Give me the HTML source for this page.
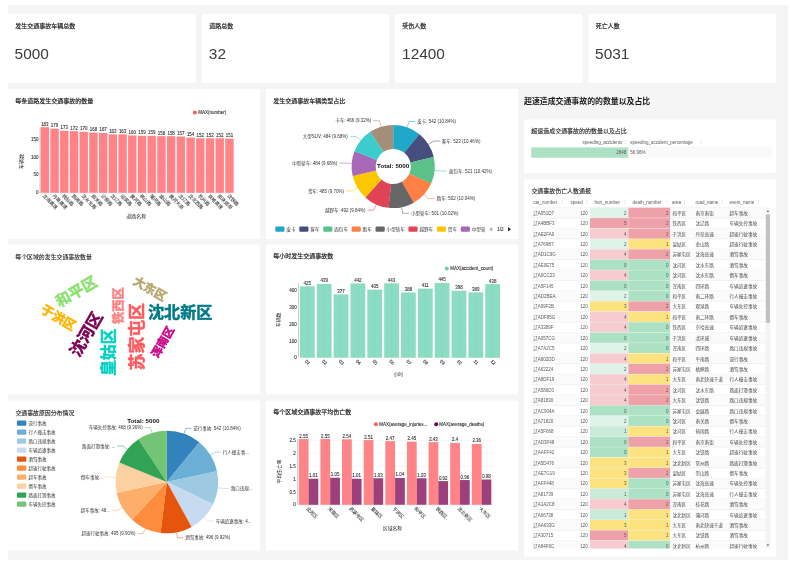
<!DOCTYPE html>
<html lang="zh"><head><meta charset="utf-8"><title>Dashboard</title>
<style>html,body{margin:0;padding:0;background:#fff;overflow:hidden}svg{display:block}text{font-family:"Liberation Sans","Noto Sans CJK SC",sans-serif}
.h{font-size:6px;fill:#222;stroke:#222;stroke-width:.18px}
.k{font-size:15.4px;fill:#3c3c3c}
.y{font-size:4.5px;fill:#333;stroke:#333;stroke-width:.1px;text-anchor:end}
.n{font-size:4.45px;fill:#333;stroke:#333;stroke-width:.1px;text-anchor:middle}
.x{font-size:4.7px;fill:#333;stroke:#333;stroke-width:.06px}
.x2{font-size:4.6px;fill:#333;stroke:#333;stroke-width:.06px}
.m{font-size:4.5px;fill:#333;stroke:#333;stroke-width:.1px}
.p{font-size:4.5px;fill:#333}
.l{font-size:4.6px;fill:#333}
.T{font-size:6.25px;font-weight:bold;fill:#111;text-anchor:middle}
.th{font-size:4.5px;fill:#5a5a5a}
.t{font-size:4.5px;fill:#5c5c5c}
.e{text-anchor:end}
.c{font-size:4.6px;fill:#444}
.w{font-weight:bold;text-anchor:middle;stroke-width:.5px}
.ax{fill:#222;text-anchor:middle}
</style></head><body>
<svg width="799" height="564" viewBox="0 0 799 564">
<defs><filter id="soft" x="0" y="0" width="100%" height="100%" filterUnits="userSpaceOnUse" color-interpolation-filters="sRGB"><feGaussianBlur stdDeviation="0.32"/></filter></defs>
<rect width="799" height="564" fill="#fff"/><g filter="url(#soft)"><rect x="8" y="5" width="780" height="555" fill="#f5f5f5"/><rect x="8" y="14" width="188" height="69" fill="#fff" rx="1.5"/><rect x="202" y="14" width="187" height="69" fill="#fff" rx="1.5"/><rect x="395" y="14" width="187.5" height="69" fill="#fff" rx="1.5"/><rect x="588.5" y="14" width="187.5" height="69" fill="#fff" rx="1.5"/><rect x="8" y="89" width="252" height="150" fill="#fff" rx="1.5"/><rect x="266" y="89" width="252" height="150" fill="#fff" rx="1.5"/><rect x="8" y="244.5" width="252" height="150" fill="#fff" rx="1.5"/><rect x="266" y="244.5" width="252" height="150" fill="#fff" rx="1.5"/><rect x="8" y="400.5" width="252" height="150" fill="#fff" rx="1.5"/><rect x="266" y="400.5" width="252" height="150" fill="#fff" rx="1.5"/><rect x="524" y="119.5" width="252" height="53.5" fill="#fff" rx="1.5"/><rect x="524" y="179.5" width="252" height="377" fill="#fff" rx="1.5"/>
<text class="h" x="15.3" y="27.6">发生交通事故车辆总数</text>
<text class="k" x="14.61" y="59">5000</text>
<text class="h" x="209.3" y="27.6">道路总数</text>
<text class="k" x="208.86" y="59">32</text>
<text class="h" x="402.3" y="27.6">受伤人数</text>
<text class="k" x="402.08" y="59">12400</text>
<text class="h" x="595.8" y="27.6">死亡人数</text>
<text class="k" x="595.11" y="59">5031</text>
<text class="h" x="15.3" y="102.8">每条道路发生交通事故的数量</text>
<line x1="40" y1="192.8" x2="234.3" y2="192.8" stroke="#e8e8e8" stroke-width="0.5"/><text class="y" x="38.4" y="194.4">0</text>
<line x1="40" y1="174.88" x2="234.3" y2="174.88" stroke="#e8e8e8" stroke-width="0.5"/><text class="y" x="38.4" y="176.48">50</text>
<line x1="40" y1="156.95" x2="234.3" y2="156.95" stroke="#e8e8e8" stroke-width="0.5"/><text class="y" x="38.4" y="158.55">100</text>
<line x1="40" y1="139.03" x2="234.3" y2="139.03" stroke="#e8e8e8" stroke-width="0.5"/><text class="y" x="38.4" y="140.63">150</text>
<line x1="44.86" y1="127.2" x2="44.86" y2="192.8" stroke="#f0f0f0" stroke-width="0.4"/><line x1="54.57" y1="127.2" x2="54.57" y2="192.8" stroke="#f0f0f0" stroke-width="0.4"/><line x1="64.29" y1="127.2" x2="64.29" y2="192.8" stroke="#f0f0f0" stroke-width="0.4"/><line x1="74" y1="127.2" x2="74" y2="192.8" stroke="#f0f0f0" stroke-width="0.4"/><line x1="83.72" y1="127.2" x2="83.72" y2="192.8" stroke="#f0f0f0" stroke-width="0.4"/><line x1="93.43" y1="127.2" x2="93.43" y2="192.8" stroke="#f0f0f0" stroke-width="0.4"/><line x1="103.15" y1="127.2" x2="103.15" y2="192.8" stroke="#f0f0f0" stroke-width="0.4"/><line x1="112.86" y1="127.2" x2="112.86" y2="192.8" stroke="#f0f0f0" stroke-width="0.4"/><line x1="122.58" y1="127.2" x2="122.58" y2="192.8" stroke="#f0f0f0" stroke-width="0.4"/><line x1="132.29" y1="127.2" x2="132.29" y2="192.8" stroke="#f0f0f0" stroke-width="0.4"/><line x1="142.01" y1="127.2" x2="142.01" y2="192.8" stroke="#f0f0f0" stroke-width="0.4"/><line x1="151.72" y1="127.2" x2="151.72" y2="192.8" stroke="#f0f0f0" stroke-width="0.4"/><line x1="161.44" y1="127.2" x2="161.44" y2="192.8" stroke="#f0f0f0" stroke-width="0.4"/><line x1="171.15" y1="127.2" x2="171.15" y2="192.8" stroke="#f0f0f0" stroke-width="0.4"/><line x1="180.87" y1="127.2" x2="180.87" y2="192.8" stroke="#f0f0f0" stroke-width="0.4"/><line x1="190.58" y1="127.2" x2="190.58" y2="192.8" stroke="#f0f0f0" stroke-width="0.4"/><line x1="200.3" y1="127.2" x2="200.3" y2="192.8" stroke="#f0f0f0" stroke-width="0.4"/><line x1="210.01" y1="127.2" x2="210.01" y2="192.8" stroke="#f0f0f0" stroke-width="0.4"/><line x1="219.73" y1="127.2" x2="219.73" y2="192.8" stroke="#f0f0f0" stroke-width="0.4"/><line x1="229.44" y1="127.2" x2="229.44" y2="192.8" stroke="#f0f0f0" stroke-width="0.4"/>
<rect x="40.65" y="127.2" width="8.41" height="65.6" fill="#ff8387"/><text class="n" x="44.86" y="125.6">183</text><text class="x" transform="translate(42.36 196.3) rotate(45)">沈海高速</text>
<rect x="50.37" y="128.63" width="8.41" height="64.17" fill="#ff8387"/><text class="n" x="54.57" y="127.03">179</text><text class="x" transform="translate(52.07 196.3) rotate(45)">丹阜高速</text>
<rect x="60.08" y="130.78" width="8.41" height="62.02" fill="#ff8387"/><text class="n" x="64.29" y="129.18">173</text><text class="x" transform="translate(61.79 196.3) rotate(45)">桃仙路</text>
<rect x="69.8" y="131.14" width="8.41" height="61.66" fill="#ff8387"/><text class="n" x="74" y="129.54">172</text><text class="x" transform="translate(71.5 196.3) rotate(45)">热闹路</text>
<rect x="79.51" y="131.86" width="8.41" height="60.94" fill="#ff8387"/><text class="n" x="83.72" y="130.26">170</text><text class="x" transform="translate(81.22 196.3) rotate(45)">沈水东路</text>
<rect x="89.23" y="132.58" width="8.41" height="60.22" fill="#ff8387"/><text class="n" x="93.43" y="130.98">168</text><text class="x" transform="translate(90.93 196.3) rotate(45)">南关路</text>
<rect x="98.94" y="132.94" width="8.41" height="59.86" fill="#ff8387"/><text class="n" x="103.15" y="131.34">167</text><text class="x" transform="translate(100.65 196.3) rotate(45)">沙柳路</text>
<rect x="108.66" y="134.37" width="8.41" height="58.43" fill="#ff8387"/><text class="n" x="112.86" y="132.77">163</text><text class="x" transform="translate(110.36 196.3) rotate(45)">沈辽路</text>
<rect x="118.37" y="134.37" width="8.41" height="58.43" fill="#ff8387"/><text class="n" x="122.58" y="132.77">163</text><text class="x" transform="translate(120.08 196.3) rotate(45)">迎宾路</text>
<rect x="128.09" y="135.44" width="8.41" height="57.36" fill="#ff8387"/><text class="n" x="132.29" y="133.84">160</text><text class="x" transform="translate(129.79 196.3) rotate(45)">黄河路</text>
<rect x="137.8" y="135.8" width="8.41" height="57" fill="#ff8387"/><text class="n" x="142.01" y="134.2">159</text><text class="x" transform="translate(139.51 196.3) rotate(45)">崇山路</text>
<rect x="147.52" y="135.8" width="8.41" height="57" fill="#ff8387"/><text class="n" x="151.72" y="134.2">159</text><text class="x" transform="translate(149.22 196.3) rotate(45)">蒲河路</text>
<rect x="157.23" y="136.16" width="8.41" height="56.64" fill="#ff8387"/><text class="n" x="161.44" y="134.56">158</text><text class="x" transform="translate(158.94 196.3) rotate(45)">金山路</text>
<rect x="166.95" y="136.16" width="8.41" height="56.64" fill="#ff8387"/><text class="n" x="171.15" y="134.56">158</text><text class="x" transform="translate(168.65 196.3) rotate(45)">黄河大街</text>
<rect x="176.66" y="136.52" width="8.41" height="56.28" fill="#ff8387"/><text class="n" x="180.87" y="134.92">157</text><text class="x" transform="translate(178.37 196.3) rotate(45)">沈辽路</text>
<rect x="186.38" y="137.6" width="8.41" height="55.2" fill="#ff8387"/><text class="n" x="190.58" y="136">154</text><text class="x" transform="translate(188.08 196.3) rotate(45)">沈北西路</text>
<rect x="196.09" y="138.31" width="8.41" height="54.49" fill="#ff8387"/><text class="n" x="200.3" y="136.71">152</text><text class="x" transform="translate(197.8 196.3) rotate(45)">杭州路</text>
<rect x="205.81" y="138.31" width="8.41" height="54.49" fill="#ff8387"/><text class="n" x="210.01" y="136.71">152</text><text class="x" transform="translate(207.51 196.3) rotate(45)">京哈高速</text>
<rect x="215.52" y="138.31" width="8.41" height="54.49" fill="#ff8387"/><text class="n" x="219.73" y="136.71">152</text><text class="x" transform="translate(217.23 196.3) rotate(45)">南京南街</text>
<rect x="225.24" y="138.67" width="8.41" height="54.13" fill="#ff8387"/><text class="n" x="229.44" y="137.07">151</text><text class="x" transform="translate(226.94 196.3) rotate(45)">沈铁路</text>
<line x1="40" y1="127.2" x2="40" y2="192.8" stroke="#999" stroke-width="0.5"/>
<text class="ax" font-size="5" x="136.3" y="218.3">道路名称</text>
<text class="ax" font-size="5" transform="translate(22.6 161.5) rotate(-90)">车辆数</text>
<circle cx="194.9" cy="112.6" r="2" fill="#ff5a5f"/><text class="m" x="198.2" y="114.2">MAX(number)</text>
<text class="h" x="273.3" y="102.8">发生交通事故车辆类型占比</text>
<path d="M393.2 124.9A41.6 41.6 0 0 1 419.52 134.29L404.34 152.87A17.6 17.6 0 0 0 393.2 148.9Z" fill="#1FA8C9"/><polyline points="407.09,127.29 409.17,121.45 415.37,121.45" fill="none" stroke="#1FA8C9" stroke-width="0.55" stroke-linejoin="round"/><text class="p" x="417.37" y="123.1">皮卡: 542 (10.84%)</text>
<path d="M419.39 134.18A41.6 41.6 0 0 1 433.72 157.08L410.34 162.51A17.6 17.6 0 0 0 404.28 152.83Z" fill="#454E7C"/><polyline points="428.42,144.36 433.67,141.07 439.87,141.07" fill="none" stroke="#454E7C" stroke-width="0.55" stroke-linejoin="round"/><text class="p" x="441.87" y="142.72">客车: 523 (10.46%)</text>
<path d="M433.68 156.92A41.6 41.6 0 0 1 431.08 183.7L409.23 173.78A17.6 17.6 0 0 0 410.33 162.45Z" fill="#5AC189"/><polyline points="434.61,170.44 440.79,171.03 446.99,171.03" fill="none" stroke="#5AC189" stroke-width="0.55" stroke-linejoin="round"/><text class="p" x="448.99" y="172.68">面包车: 521 (10.42%)</text>
<path d="M431.15 183.55A41.6 41.6 0 0 1 413.64 202.73L401.85 181.83A17.6 17.6 0 0 0 409.25 173.71Z" fill="#FF7F44"/><polyline points="423.99,194.48 428.57,198.65 434.77,198.65" fill="none" stroke="#FF7F44" stroke-width="0.55" stroke-linejoin="round"/><text class="p" x="436.77" y="200.3">跑车: 502 (10.04%)</text>
<path d="M413.79 202.65A41.6 41.6 0 0 1 388.39 207.82L391.17 183.98A17.6 17.6 0 0 0 401.91 181.79Z" fill="#666666"/><polyline points="401.58,207.25 402.83,213.32 409.03,213.32" fill="none" stroke="#666666" stroke-width="0.55" stroke-linejoin="round"/><text class="p" x="411.03" y="214.97">小型轿车: 501 (10.02%)</text>
<path d="M388.56 207.84A41.6 41.6 0 0 1 365.33 197.39L381.41 179.57A17.6 17.6 0 0 0 391.24 183.99Z" fill="#E04355"/><polyline points="376.2,204.47 373.67,210.13 367.47,210.13" fill="none" stroke="#E04355" stroke-width="0.55" stroke-linejoin="round"/><text class="p e" x="365.47" y="211.78">越野车: 492 (9.84%)</text>
<path d="M365.45 197.5A41.6 41.6 0 0 1 352.67 175.87L376.05 170.46A17.6 17.6 0 0 0 381.46 179.61Z" fill="#FCC700"/><polyline points="357.43,187.74 352.1,190.91 345.9,190.91" fill="none" stroke="#FCC700" stroke-width="0.55" stroke-linejoin="round"/><text class="p e" x="343.9" y="192.56">货车: 485 (9.70%)</text>
<path d="M352.71 176.03A41.6 41.6 0 0 1 354.58 151.03L376.86 159.96A17.6 17.6 0 0 0 376.07 170.53Z" fill="#A868B7"/><polyline points="351.71,163.47 345.53,163.02 339.33,163.02" fill="none" stroke="#A868B7" stroke-width="0.55" stroke-linejoin="round"/><text class="p e" x="337.33" y="164.67">中型轿车: 484 (9.68%)</text>
<path d="M354.52 151.19A41.6 41.6 0 0 1 370.35 131.74L383.53 151.79A17.6 17.6 0 0 0 376.84 160.02Z" fill="#3CCCCB"/><polyline points="360.88,140.31 356.07,136.4 349.87,136.4" fill="none" stroke="#3CCCCB" stroke-width="0.55" stroke-linejoin="round"/><text class="p e" x="347.87" y="138.05">大型SUV: 484 (9.68%)</text>
<path d="M370.21 131.83A41.6 41.6 0 0 1 393.2 124.9L393.2 148.9A17.6 17.6 0 0 0 383.47 151.83Z" fill="#A38F79"/><polyline points="381.19,126.67 379.4,120.73 373.2,120.73" fill="none" stroke="#A38F79" stroke-width="0.55" stroke-linejoin="round"/><text class="p e" x="371.2" y="122.38">卡车: 466 (9.32%)</text>
<text class="T" x="393.2" y="168">Total: 5000</text>
<rect x="275.3" y="226.5" width="9.2" height="5.3" fill="#1FA8C9" rx="1.2"/><text class="l" x="286.3" y="230.9">皮卡</text>
<rect x="299.25" y="226.5" width="9.2" height="5.3" fill="#454E7C" rx="1.2"/><text class="l" x="310.25" y="230.9">客车</text>
<rect x="323.2" y="226.5" width="9.2" height="5.3" fill="#5AC189" rx="1.2"/><text class="l" x="334.2" y="230.9">面包车</text>
<rect x="351.6" y="226.5" width="9.2" height="5.3" fill="#FF7F44" rx="1.2"/><text class="l" x="362.6" y="230.9">跑车</text>
<rect x="375.55" y="226.5" width="9.2" height="5.3" fill="#666666" rx="1.2"/><text class="l" x="386.55" y="230.9">小型轿车</text>
<rect x="408.4" y="226.5" width="9.2" height="5.3" fill="#E04355" rx="1.2"/><text class="l" x="419.4" y="230.9">越野车</text>
<rect x="436.8" y="226.5" width="9.2" height="5.3" fill="#FCC700" rx="1.2"/><text class="l" x="447.8" y="230.9">货车</text>
<rect x="460.75" y="226.5" width="9.2" height="5.3" fill="#A868B7" rx="1.2"/><clipPath id="lgclip"><rect x="470" y="220" width="15.5" height="20"/></clipPath><g clip-path="url(#lgclip)"><text class="l" x="471.75" y="230.9">中型轿车</text></g>
<path d="M492.3 226.9L489.3 229.2L492.3 231.5Z" fill="#aaa"/><text x="500.4" y="230.9" font-size="4.6" fill="#333" stroke="#333" stroke-width="0.1" text-anchor="middle">1/2</text><path d="M508 226.9L511 229.2L508 231.5Z" fill="#2b2b2b"/>
<text class="h" style="font-size:5.9px;stroke-width:.08px" x="15.3" y="259.3">每个区域的发生交通事故数量</text>
<text class="w" font-size="15" fill="#8ce071" stroke="#8ce071" transform="translate(79.01 296.37) rotate(-30)">和平区</text>
<text class="w" font-size="12.7" fill="#ffb400" stroke="#ffb400" transform="translate(56.12 321.62) rotate(30)">于洪区</text>
<text class="w" font-size="12.2" fill="#ff8083" stroke="#ff8083" transform="translate(122.88 305.6) rotate(-90)">铁西区</text>
<text class="w" font-size="16.1" fill="#7b0051" stroke="#7b0051" transform="translate(91.13 337.12) rotate(-60)">沈河区</text>
<text class="w" font-size="15.7" fill="#00d1c1" stroke="#00d1c1" transform="translate(113.79 352.2) rotate(-90)">皇姑区</text>
<text class="w" font-size="16.8" fill="#ff5a5f" stroke="#ff5a5f" transform="translate(142.8 336.6) rotate(-90)">苏家屯区</text>
<text class="w" font-size="11.3" fill="#cc0086" stroke="#cc0086" transform="translate(166.17 344.12) rotate(-60)">浑南区</text>
<text class="w" font-size="12" fill="#b4a76c" stroke="#b4a76c" transform="translate(147.75 292.4) rotate(30)">大东区</text>
<text class="w" font-size="16.1" fill="#007a87" stroke="#007a87" x="180.2" y="317.64">沈北新区</text>
<text class="h" x="273.3" y="258.3">每小时发生交通事故数</text>
<line x1="298.9" y1="357.7" x2="501.1" y2="357.7" stroke="#e8e8e8" stroke-width="0.5"/><text class="y" x="296.7" y="359.3">0</text>
<line x1="298.9" y1="340.9" x2="501.1" y2="340.9" stroke="#e8e8e8" stroke-width="0.5"/><text class="y" x="296.7" y="342.5">100</text>
<line x1="298.9" y1="324.1" x2="501.1" y2="324.1" stroke="#e8e8e8" stroke-width="0.5"/><text class="y" x="296.7" y="325.7">200</text>
<line x1="298.9" y1="307.3" x2="501.1" y2="307.3" stroke="#e8e8e8" stroke-width="0.5"/><text class="y" x="296.7" y="308.9">300</text>
<line x1="298.9" y1="290.5" x2="501.1" y2="290.5" stroke="#e8e8e8" stroke-width="0.5"/><text class="y" x="296.7" y="292.1">400</text>
<line x1="307.32" y1="282.94" x2="307.32" y2="357.7" stroke="#f0f0f0" stroke-width="0.4"/><line x1="324.17" y1="282.94" x2="324.17" y2="357.7" stroke="#f0f0f0" stroke-width="0.4"/><line x1="341.02" y1="282.94" x2="341.02" y2="357.7" stroke="#f0f0f0" stroke-width="0.4"/><line x1="357.88" y1="282.94" x2="357.88" y2="357.7" stroke="#f0f0f0" stroke-width="0.4"/><line x1="374.72" y1="282.94" x2="374.72" y2="357.7" stroke="#f0f0f0" stroke-width="0.4"/><line x1="391.57" y1="282.94" x2="391.57" y2="357.7" stroke="#f0f0f0" stroke-width="0.4"/><line x1="408.42" y1="282.94" x2="408.42" y2="357.7" stroke="#f0f0f0" stroke-width="0.4"/><line x1="425.27" y1="282.94" x2="425.27" y2="357.7" stroke="#f0f0f0" stroke-width="0.4"/><line x1="442.12" y1="282.94" x2="442.12" y2="357.7" stroke="#f0f0f0" stroke-width="0.4"/><line x1="458.98" y1="282.94" x2="458.98" y2="357.7" stroke="#f0f0f0" stroke-width="0.4"/><line x1="475.82" y1="282.94" x2="475.82" y2="357.7" stroke="#f0f0f0" stroke-width="0.4"/><line x1="492.67" y1="282.94" x2="492.67" y2="357.7" stroke="#f0f0f0" stroke-width="0.4"/>
<rect x="299.95" y="286.3" width="14.75" height="71.4" fill="#8bdcc3"/><line x1="307.32" y1="286.3" x2="307.32" y2="357.7" stroke="#7fd3b9" stroke-width="0.4"/><text class="n" x="307.32" y="284.8">425</text><text class="m" transform="translate(304.82 361.6) rotate(45)">01</text>
<rect x="316.8" y="283.95" width="14.75" height="73.75" fill="#8bdcc3"/><line x1="324.17" y1="283.95" x2="324.17" y2="357.7" stroke="#7fd3b9" stroke-width="0.4"/><text class="n" x="324.17" y="282.45">439</text><text class="m" transform="translate(321.67 361.6) rotate(45)">02</text>
<rect x="333.65" y="294.36" width="14.75" height="63.34" fill="#8bdcc3"/><line x1="341.02" y1="294.36" x2="341.02" y2="357.7" stroke="#7fd3b9" stroke-width="0.4"/><text class="n" x="341.02" y="292.86">377</text><text class="m" transform="translate(338.52 361.6) rotate(45)">03</text>
<rect x="350.5" y="283.44" width="14.75" height="74.26" fill="#8bdcc3"/><line x1="357.88" y1="283.44" x2="357.88" y2="357.7" stroke="#7fd3b9" stroke-width="0.4"/><text class="n" x="357.88" y="281.94">442</text><text class="m" transform="translate(355.38 361.6) rotate(45)">04</text>
<rect x="367.35" y="289.66" width="14.75" height="68.04" fill="#8bdcc3"/><line x1="374.72" y1="289.66" x2="374.72" y2="357.7" stroke="#7fd3b9" stroke-width="0.4"/><text class="n" x="374.72" y="288.16">405</text><text class="m" transform="translate(372.22 361.6) rotate(45)">05</text>
<rect x="384.2" y="283.28" width="14.75" height="74.42" fill="#8bdcc3"/><line x1="391.57" y1="283.28" x2="391.57" y2="357.7" stroke="#7fd3b9" stroke-width="0.4"/><text class="n" x="391.57" y="281.78">443</text><text class="m" transform="translate(389.07 361.6) rotate(45)">06</text>
<rect x="401.05" y="292.52" width="14.75" height="65.18" fill="#8bdcc3"/><line x1="408.42" y1="292.52" x2="408.42" y2="357.7" stroke="#7fd3b9" stroke-width="0.4"/><text class="n" x="408.42" y="291.02">388</text><text class="m" transform="translate(405.92 361.6) rotate(45)">07</text>
<rect x="417.9" y="288.65" width="14.75" height="69.05" fill="#8bdcc3"/><line x1="425.27" y1="288.65" x2="425.27" y2="357.7" stroke="#7fd3b9" stroke-width="0.4"/><text class="n" x="425.27" y="287.15">411</text><text class="m" transform="translate(422.77 361.6) rotate(45)">08</text>
<rect x="434.75" y="282.94" width="14.75" height="74.76" fill="#8bdcc3"/><line x1="442.12" y1="282.94" x2="442.12" y2="357.7" stroke="#7fd3b9" stroke-width="0.4"/><text class="n" x="442.12" y="281.44">445</text><text class="m" transform="translate(439.62 361.6) rotate(45)">09</text>
<rect x="451.6" y="290.84" width="14.75" height="66.86" fill="#8bdcc3"/><line x1="458.98" y1="290.84" x2="458.98" y2="357.7" stroke="#7fd3b9" stroke-width="0.4"/><text class="n" x="458.98" y="289.34">398</text><text class="m" transform="translate(456.48 361.6) rotate(45)">10</text>
<rect x="468.45" y="292.35" width="14.75" height="65.35" fill="#8bdcc3"/><line x1="475.82" y1="292.35" x2="475.82" y2="357.7" stroke="#7fd3b9" stroke-width="0.4"/><text class="n" x="475.82" y="290.85">389</text><text class="m" transform="translate(473.32 361.6) rotate(45)">11</text>
<rect x="485.3" y="284.12" width="14.75" height="73.58" fill="#8bdcc3"/><line x1="492.67" y1="284.12" x2="492.67" y2="357.7" stroke="#7fd3b9" stroke-width="0.4"/><text class="n" x="492.67" y="282.62">438</text><text class="m" transform="translate(490.17 361.6) rotate(45)">12</text>
<line x1="298.5" y1="282.94" x2="298.5" y2="357.7" stroke="#999" stroke-width="0.5"/>
<text class="ax" font-size="4.8" x="398.3" y="376">小时</text>
<text class="ax" font-size="4.8" transform="translate(280.1 319.8) rotate(-90)">车辆数</text>
<circle cx="446.8" cy="268.6" r="2" fill="#63d1b0"/><text class="m" x="450.2" y="270.2">MAX(accident_count)</text>
<text class="h" style="font-size:5.9px;stroke-width:.1px" x="15.4" y="415">交通事故原因分布情况</text>
<rect x="16.9" y="420.45" width="9.4" height="5.2" fill="#3182bd" rx="1.2"/><text class="p" x="28.4" y="424.7">逆行事故</text>
<rect x="16.9" y="429.45" width="9.4" height="5.2" fill="#6baed6" rx="1.2"/><text class="p" x="28.4" y="433.7">行人撞击事故</text>
<rect x="16.9" y="438.45" width="9.4" height="5.2" fill="#9ecae1" rx="1.2"/><text class="p" x="28.4" y="442.7">路口违规事故</text>
<rect x="16.9" y="447.45" width="9.4" height="5.2" fill="#c6dbef" rx="1.2"/><text class="p" x="28.4" y="451.7">车辆追逐事故</text>
<rect x="16.9" y="456.45" width="9.4" height="5.2" fill="#e6550d" rx="1.2"/><text class="p" x="28.4" y="460.7">酒驾事故</text>
<rect x="16.9" y="465.45" width="9.4" height="5.2" fill="#fd8d3c" rx="1.2"/><text class="p" x="28.4" y="469.7">超速行驶事故</text>
<rect x="16.9" y="474.45" width="9.4" height="5.2" fill="#fdae6b" rx="1.2"/><text class="p" x="28.4" y="478.7">超车事故</text>
<rect x="16.9" y="483.45" width="9.4" height="5.2" fill="#fdd0a2" rx="1.2"/><text class="p" x="28.4" y="487.7">倒车事故</text>
<rect x="16.9" y="492.45" width="9.4" height="5.2" fill="#31a354" rx="1.2"/><text class="p" x="28.4" y="496.7">路面打滑事故</text>
<rect x="16.9" y="501.45" width="9.4" height="5.2" fill="#74c476" rx="1.2"/><text class="p" x="28.4" y="505.7">车辆失控事故</text>
<path d="M166.85 482L166.85 430.7A51.3 51.3 0 0 1 199.31 442.28Z" fill="#3182bd"/><polyline points="183.98,433.65 185.85,428.37 191.45,428.37" fill="none" stroke="#3182bd" stroke-width="0.55" stroke-linejoin="round"/><text class="p" x="193.35" y="429.97">逆行事故: 542 (10.84%)</text>
<path d="M166.85 482L199.15 442.15A51.3 51.3 0 0 1 216.99 471.14Z" fill="#6baed6"/><polyline points="210.49,455.03 215.25,452.09 220.85,452.09" fill="none" stroke="#6baed6" stroke-width="0.55" stroke-linejoin="round"/><text class="p" x="222.75" y="453.69">行人撞击事...</text>
<path d="M166.85 482L216.94 470.94A51.3 51.3 0 0 1 213.12 504.14Z" fill="#9ecae1"/><polyline points="217.83,487.76 223.39,488.39 228.99,488.39" fill="none" stroke="#9ecae1" stroke-width="0.55" stroke-linejoin="round"/><text class="p" x="230.89" y="489.99">路口违规...</text>
<path d="M166.85 482L213.21 503.96A51.3 51.3 0 0 1 191.38 527.05Z" fill="#c6dbef"/><polyline points="204.2,517.16 208.28,521 213.88,521" fill="none" stroke="#c6dbef" stroke-width="0.55" stroke-linejoin="round"/><text class="p" x="215.78" y="522.6">车辆追逐事故: 4...</text>
<path d="M166.85 482L191.56 526.95A51.3 51.3 0 0 1 160.47 532.9Z" fill="#e6550d"/><polyline points="176.59,532.37 177.65,537.87 183.25,537.87" fill="none" stroke="#e6550d" stroke-width="0.55" stroke-linejoin="round"/><text class="p" x="185.15" y="539.47">酒驾事故: 496 (9.92%)</text>
<path d="M166.85 482L160.68 532.93A51.3 51.3 0 0 1 132.01 519.65Z" fill="#fd8d3c"/><polyline points="145.39,528.59 143.04,533.68 137.44,533.68" fill="none" stroke="#fd8d3c" stroke-width="0.55" stroke-linejoin="round"/><text class="p e" x="135.54" y="535.28">超速行驶事故: 495 (9.90%)</text>
<path d="M166.85 482L132.16 519.79A51.3 51.3 0 0 1 116.67 492.68Z" fill="#fdae6b"/><polyline points="122.35,507.53 117.5,510.32 111.9,510.32" fill="none" stroke="#fdae6b" stroke-width="0.55" stroke-linejoin="round"/><text class="p e" x="110" y="511.92">超车事故: 48...</text>
<path d="M166.85 482L116.72 492.88A51.3 51.3 0 0 1 119.47 462.33Z" fill="#fdd0a2"/><polyline points="115.75,477.49 110.17,477 104.57,477" fill="none" stroke="#fdd0a2" stroke-width="0.55" stroke-linejoin="round"/><text class="p e" x="102.67" y="478.6">倒车事故...</text>
<path d="M166.85 482L119.39 462.52A51.3 51.3 0 0 1 138.56 439.21Z" fill="#31a354"/><polyline points="127.16,449.5 122.83,445.95 117.23,445.95" fill="none" stroke="#31a354" stroke-width="0.55" stroke-linejoin="round"/><text class="p e" x="115.33" y="447.55">路面打滑事故: ...</text>
<path d="M166.85 482L138.39 439.32A51.3 51.3 0 0 1 166.85 430.7Z" fill="#74c476"/><polyline points="151.98,432.9 150.36,427.54 144.76,427.54" fill="none" stroke="#74c476" stroke-width="0.55" stroke-linejoin="round"/><text class="p e" x="142.86" y="429.14">车辆失控事故: 468 (9.36%)</text>
<text class="T" x="143.3" y="422.8">Total: 5000</text>
<text class="h" x="273.3" y="414.3">每个区域交通事故平均伤亡数</text>
<line x1="297.7" y1="504.8" x2="493.37" y2="504.8" stroke="#e8e8e8" stroke-width="0.5"/><text class="y" x="295.7" y="506.4">0</text>
<line x1="297.7" y1="491.91" x2="493.37" y2="491.91" stroke="#e8e8e8" stroke-width="0.5"/><text class="y" x="295.7" y="493.51">0.5</text>
<line x1="297.7" y1="479.02" x2="493.37" y2="479.02" stroke="#e8e8e8" stroke-width="0.5"/><text class="y" x="295.7" y="480.62">1</text>
<line x1="297.7" y1="466.13" x2="493.37" y2="466.13" stroke="#e8e8e8" stroke-width="0.5"/><text class="y" x="295.7" y="467.73">1.5</text>
<line x1="297.7" y1="453.24" x2="493.37" y2="453.24" stroke="#e8e8e8" stroke-width="0.5"/><text class="y" x="295.7" y="454.84">2</text>
<line x1="297.7" y1="440.35" x2="493.37" y2="440.35" stroke="#e8e8e8" stroke-width="0.5"/><text class="y" x="295.7" y="441.95">2.5</text>
<rect x="298.8" y="439.06" width="9.75" height="65.74" fill="#ff8387"/><rect x="308.55" y="478.76" width="9.75" height="26.04" fill="#9c407c"/><text class="n" x="303.68" y="437.56">2.55</text><text class="n" x="313.43" y="477.26">1.01</text><text class="x2" transform="translate(305.75 508.9) rotate(45)">沈河区</text>
<rect x="320.43" y="439.06" width="9.75" height="65.74" fill="#ff8387"/><rect x="330.18" y="477.73" width="9.75" height="27.07" fill="#9c407c"/><text class="n" x="325.31" y="437.56">2.55</text><text class="n" x="335.06" y="476.23">1.05</text><text class="x2" transform="translate(327.38 508.9) rotate(45)">浑南区</text>
<rect x="342.06" y="439.32" width="9.75" height="65.48" fill="#ff8387"/><rect x="351.81" y="478.76" width="9.75" height="26.04" fill="#9c407c"/><text class="n" x="346.94" y="437.82">2.54</text><text class="n" x="356.69" y="477.26">1.01</text><text class="x2" transform="translate(349.01 508.9) rotate(45)">苏家屯区</text>
<rect x="363.69" y="440.09" width="9.75" height="64.71" fill="#ff8387"/><rect x="373.44" y="478.25" width="9.75" height="26.55" fill="#9c407c"/><text class="n" x="368.56" y="438.59">2.51</text><text class="n" x="378.31" y="476.75">1.03</text><text class="x2" transform="translate(370.64 508.9) rotate(45)">皇姑区</text>
<rect x="385.32" y="441.12" width="9.75" height="63.68" fill="#ff8387"/><rect x="395.07" y="477.99" width="9.75" height="26.81" fill="#9c407c"/><text class="n" x="390.19" y="439.62">2.47</text><text class="n" x="399.94" y="476.49">1.04</text><text class="x2" transform="translate(392.27 508.9) rotate(45)">于洪区</text>
<rect x="406.95" y="441.64" width="9.75" height="63.16" fill="#ff8387"/><rect x="416.7" y="478.25" width="9.75" height="26.55" fill="#9c407c"/><text class="n" x="411.82" y="440.14">2.45</text><text class="n" x="421.57" y="476.75">1.03</text><text class="x2" transform="translate(413.9 508.9) rotate(45)">和平区</text>
<rect x="428.58" y="442.15" width="9.75" height="62.65" fill="#ff8387"/><rect x="438.33" y="481.08" width="9.75" height="23.72" fill="#9c407c"/><text class="n" x="433.46" y="440.65">2.43</text><text class="n" x="443.21" y="479.58">0.92</text><text class="x2" transform="translate(435.53 508.9) rotate(45)">铁西区</text>
<rect x="450.21" y="442.93" width="9.75" height="61.87" fill="#ff8387"/><rect x="459.96" y="480.05" width="9.75" height="24.75" fill="#9c407c"/><text class="n" x="455.09" y="441.43">2.4</text><text class="n" x="464.84" y="478.55">0.96</text><text class="x2" transform="translate(457.16 508.9) rotate(45)">沈北新区</text>
<rect x="471.84" y="443.96" width="9.75" height="60.84" fill="#ff8387"/><rect x="481.59" y="479.54" width="9.75" height="25.26" fill="#9c407c"/><text class="n" x="476.72" y="442.46">2.36</text><text class="n" x="486.47" y="478.04">0.98</text><text class="x2" transform="translate(478.79 508.9) rotate(45)">大东区</text>
<line x1="297.3" y1="439.06" x2="297.3" y2="504.8" stroke="#999" stroke-width="0.5"/>
<text class="ax" font-size="4.8" x="392.5" y="529.6">区域名称</text>
<text class="ax" font-size="4.8" transform="translate(281 471.5) rotate(-90)">平均伤亡率</text>
<circle cx="375.9" cy="424.2" r="2" fill="#ff5a5f"/><text class="m" x="379.2" y="425.8">MAX(average_injuries...</text>
<circle cx="436.2" cy="424.2" r="2" fill="#7b0051"/><text class="m" x="439.2" y="425.8">MAX(average_deaths)</text>
<text x="524" y="104.3" font-size="7.9" font-weight="bold" fill="#1a1a1a">超速造成交通事故的的数量以及占比</text>
<text class="h" style="font-size:5.98px;stroke-width:.1px" x="531.3" y="133.4">超速造成交通事故的的数量以及占比</text>
<text class="th e" x="622.3" y="143.6">speeding_accidents</text>
<text class="th" x="630.2" y="143.6">speeding_accident_percentage</text>
<rect x="624.9" y="140.4" width="0.6" height="0.6" fill="#aaa"/><rect x="624.9" y="141.7" width="0.6" height="0.6" fill="#aaa"/><rect x="624.9" y="143" width="0.6" height="0.6" fill="#aaa"/><rect x="700.9" y="140.4" width="0.6" height="0.6" fill="#aaa"/><rect x="700.9" y="141.7" width="0.6" height="0.6" fill="#aaa"/><rect x="700.9" y="143" width="0.6" height="0.6" fill="#aaa"/><line x1="531.3" y1="147.3" x2="771.7" y2="147.3" stroke="#e6e6e6" stroke-width="0.4"/><rect x="531.3" y="147.5" width="240.4" height="10.2" fill="#fafafa"/><rect x="531.3" y="147.5" width="96.8" height="10.2" fill="#ace1c4"/><line x1="628.3" y1="147.5" x2="628.3" y2="157.7" stroke="#eee" stroke-width="0.4"/>
<text class="t e" x="626.3" y="154.3">2848</text>
<text class="t" x="630.2" y="154.3">56.96%</text>
<text class="h" style="font-size:5.96px;stroke-width:.1px" x="531.4" y="193.2">交通事故伤亡人数通报</text>
<text class="th" x="533.2" y="203.6">car_number</text><rect x="561.7" y="200.4" width="0.6" height="0.6" fill="#aaa"/><rect x="561.7" y="201.7" width="0.6" height="0.6" fill="#aaa"/><rect x="561.7" y="203" width="0.6" height="0.6" fill="#aaa"/>
<text class="th" x="570.5" y="203.6">speed</text><rect x="586.7" y="200.4" width="0.6" height="0.6" fill="#aaa"/><rect x="586.7" y="201.7" width="0.6" height="0.6" fill="#aaa"/><rect x="586.7" y="203" width="0.6" height="0.6" fill="#aaa"/>
<text class="th" x="594.4" y="203.6">hurt_number</text><rect x="624.7" y="200.4" width="0.6" height="0.6" fill="#aaa"/><rect x="624.7" y="201.7" width="0.6" height="0.6" fill="#aaa"/><rect x="624.7" y="203" width="0.6" height="0.6" fill="#aaa"/>
<text class="th" x="632.5" y="203.6">death_number</text><rect x="666.7" y="200.4" width="0.6" height="0.6" fill="#aaa"/><rect x="666.7" y="201.7" width="0.6" height="0.6" fill="#aaa"/><rect x="666.7" y="203" width="0.6" height="0.6" fill="#aaa"/>
<text class="th" x="672" y="203.6">area</text><rect x="684.1" y="200.4" width="0.6" height="0.6" fill="#aaa"/><rect x="684.1" y="201.7" width="0.6" height="0.6" fill="#aaa"/><rect x="684.1" y="203" width="0.6" height="0.6" fill="#aaa"/>
<text class="th" x="695.4" y="203.6">road_name</text><rect x="721.7" y="200.4" width="0.6" height="0.6" fill="#aaa"/><rect x="721.7" y="201.7" width="0.6" height="0.6" fill="#aaa"/><rect x="721.7" y="203" width="0.6" height="0.6" fill="#aaa"/>
<text class="th" x="729.5" y="203.6">event_name</text><rect x="758.1" y="200.4" width="0.6" height="0.6" fill="#aaa"/><rect x="758.1" y="201.7" width="0.6" height="0.6" fill="#aaa"/><rect x="758.1" y="203" width="0.6" height="0.6" fill="#aaa"/>
<line x1="531.3" y1="207.4" x2="765.3" y2="207.4" stroke="#ddd" stroke-width="0.4"/><clipPath id="tclip"><rect x="524" y="207.1" width="252" height="341.5"/></clipPath><g clip-path="url(#tclip)">
<rect x="531.3" y="207.6" width="234" height="10.41" fill="#fbfbfb"/><rect x="590" y="207.72" width="38.4" height="10.17" fill="#e0f3e9"/><rect x="628.4" y="207.72" width="41.7" height="10.17" fill="#efa1aa"/><line x1="531.3" y1="218.01" x2="765.3" y2="218.01" stroke="#e2e2e2" stroke-width="0.45"/><text class="t" x="533.2" y="214.75">辽A051D7</text><text class="t e" x="587.8" y="214.75">120</text><text class="t e" x="626.5" y="214.75">2</text><text class="t e" x="668.4" y="214.75">2</text><text class="c" x="672.4" y="214.75">和平区</text><text class="c" x="695.4" y="214.75">南京南街</text><text class="c" x="729.5" y="214.75">超车事故</text>
<rect x="590" y="218.13" width="38.4" height="10.17" fill="#efa1aa"/><rect x="628.4" y="218.13" width="41.7" height="10.17" fill="#efa1aa"/><line x1="531.3" y1="228.42" x2="765.3" y2="228.42" stroke="#e2e2e2" stroke-width="0.45"/><text class="t" x="533.2" y="225.16">辽A4BBF3</text><text class="t e" x="587.8" y="225.16">120</text><text class="t e" x="626.5" y="225.16">5</text><text class="t e" x="668.4" y="225.16">2</text><text class="c" x="672.4" y="225.16">铁西区</text><text class="c" x="695.4" y="225.16">沈辽路</text><text class="c" x="729.5" y="225.16">车辆失控事故</text>
<rect x="531.3" y="228.42" width="234" height="10.41" fill="#fbfbfb"/><rect x="590" y="228.54" width="38.4" height="10.17" fill="#f7ccd1"/><rect x="628.4" y="228.54" width="41.7" height="10.17" fill="#efa1aa"/><line x1="531.3" y1="238.83" x2="765.3" y2="238.83" stroke="#e2e2e2" stroke-width="0.45"/><text class="t" x="533.2" y="235.57">辽AE2FA0</text><text class="t e" x="587.8" y="235.57">120</text><text class="t e" x="626.5" y="235.57">4</text><text class="t e" x="668.4" y="235.57">2</text><text class="c" x="672.4" y="235.57">于洪区</text><text class="c" x="695.4" y="235.57">丹阜高速</text><text class="c" x="729.5" y="235.57">超速行驶事故</text>
<rect x="590" y="238.95" width="38.4" height="10.17" fill="#e0f3e9"/><rect x="628.4" y="238.95" width="41.7" height="10.17" fill="#fde380"/><line x1="531.3" y1="249.24" x2="765.3" y2="249.24" stroke="#e2e2e2" stroke-width="0.45"/><text class="t" x="533.2" y="245.98">辽A769B7</text><text class="t e" x="587.8" y="245.98">120</text><text class="t e" x="626.5" y="245.98">2</text><text class="t e" x="668.4" y="245.98">1</text><text class="c" x="672.4" y="245.98">皇姑区</text><text class="c" x="695.4" y="245.98">金山路</text><text class="c" x="729.5" y="245.98">超速行驶事故</text>
<rect x="531.3" y="249.24" width="234" height="10.41" fill="#fbfbfb"/><rect x="590" y="249.36" width="38.4" height="10.17" fill="#f7ccd1"/><rect x="628.4" y="249.36" width="41.7" height="10.17" fill="#efa1aa"/><line x1="531.3" y1="259.65" x2="765.3" y2="259.65" stroke="#e2e2e2" stroke-width="0.45"/><text class="t" x="533.2" y="256.4">辽AD1C9G</text><text class="t e" x="587.8" y="256.4">120</text><text class="t e" x="626.5" y="256.4">4</text><text class="t e" x="668.4" y="256.4">2</text><text class="c" x="672.4" y="256.4">苏家屯区</text><text class="c" x="695.4" y="256.4">沈海高速</text><text class="c" x="729.5" y="256.4">酒驾事故</text>
<rect x="590" y="259.77" width="38.4" height="10.17" fill="#ace1c4"/><rect x="628.4" y="259.77" width="41.7" height="10.17" fill="#ace1c4"/><line x1="531.3" y1="270.06" x2="765.3" y2="270.06" stroke="#e2e2e2" stroke-width="0.45"/><text class="t" x="533.2" y="266.8">辽AE0E75</text><text class="t e" x="587.8" y="266.8">120</text><text class="t e" x="626.5" y="266.8">0</text><text class="t e" x="668.4" y="266.8">0</text><text class="c" x="672.4" y="266.8">沈河区</text><text class="c" x="695.4" y="266.8">沈水东路</text><text class="c" x="729.5" y="266.8">酒驾事故</text>
<rect x="531.3" y="270.06" width="234" height="10.41" fill="#fbfbfb"/><rect x="590" y="270.18" width="38.4" height="10.17" fill="#f7ccd1"/><rect x="628.4" y="270.18" width="41.7" height="10.17" fill="#ace1c4"/><line x1="531.3" y1="280.47" x2="765.3" y2="280.47" stroke="#e2e2e2" stroke-width="0.45"/><text class="t" x="533.2" y="277.21">辽A0CC23</text><text class="t e" x="587.8" y="277.21">120</text><text class="t e" x="626.5" y="277.21">4</text><text class="t e" x="668.4" y="277.21">0</text><text class="c" x="672.4" y="277.21">沈河区</text><text class="c" x="695.4" y="277.21">沈水东路</text><text class="c" x="729.5" y="277.21">倒车事故</text>
<rect x="590" y="280.59" width="38.4" height="10.17" fill="#ace1c4"/><rect x="628.4" y="280.59" width="41.7" height="10.17" fill="#ace1c4"/><line x1="531.3" y1="290.88" x2="765.3" y2="290.88" stroke="#e2e2e2" stroke-width="0.45"/><text class="t" x="533.2" y="287.62">辽A5F145</text><text class="t e" x="587.8" y="287.62">120</text><text class="t e" x="626.5" y="287.62">0</text><text class="t e" x="668.4" y="287.62">0</text><text class="c" x="672.4" y="287.62">浑南区</text><text class="c" x="695.4" y="287.62">四环路</text><text class="c" x="729.5" y="287.62">车辆追逐事故</text>
<rect x="531.3" y="290.88" width="234" height="10.41" fill="#fbfbfb"/><rect x="590" y="291" width="38.4" height="10.17" fill="#e0f3e9"/><rect x="628.4" y="291" width="41.7" height="10.17" fill="#ace1c4"/><line x1="531.3" y1="301.29" x2="765.3" y2="301.29" stroke="#e2e2e2" stroke-width="0.45"/><text class="t" x="533.2" y="298.03">辽AD2BEA</text><text class="t e" x="587.8" y="298.03">120</text><text class="t e" x="626.5" y="298.03">2</text><text class="t e" x="668.4" y="298.03">0</text><text class="c" x="672.4" y="298.03">和平区</text><text class="c" x="695.4" y="298.03">南二环路</text><text class="c" x="729.5" y="298.03">行人撞击事故</text>
<rect x="590" y="301.41" width="38.4" height="10.17" fill="#fde380"/><rect x="628.4" y="301.41" width="41.7" height="10.17" fill="#efa1aa"/><line x1="531.3" y1="311.7" x2="765.3" y2="311.7" stroke="#e2e2e2" stroke-width="0.45"/><text class="t" x="533.2" y="308.44">辽A99F2B</text><text class="t e" x="587.8" y="308.44">120</text><text class="t e" x="626.5" y="308.44">3</text><text class="t e" x="668.4" y="308.44">2</text><text class="c" x="672.4" y="308.44">大东区</text><text class="c" x="695.4" y="308.44">观泉路</text><text class="c" x="729.5" y="308.44">车辆失控事故</text>
<rect x="531.3" y="311.7" width="234" height="10.41" fill="#fbfbfb"/><rect x="590" y="311.82" width="38.4" height="10.17" fill="#f7ccd1"/><rect x="628.4" y="311.82" width="41.7" height="10.17" fill="#fde380"/><line x1="531.3" y1="322.11" x2="765.3" y2="322.11" stroke="#e2e2e2" stroke-width="0.45"/><text class="t" x="533.2" y="318.85">辽ADF85G</text><text class="t e" x="587.8" y="318.85">120</text><text class="t e" x="626.5" y="318.85">4</text><text class="t e" x="668.4" y="318.85">1</text><text class="c" x="672.4" y="318.85">和平区</text><text class="c" x="695.4" y="318.85">南二环路</text><text class="c" x="729.5" y="318.85">倒车事故</text>
<rect x="590" y="322.23" width="38.4" height="10.17" fill="#f7ccd1"/><rect x="628.4" y="322.23" width="41.7" height="10.17" fill="#ace1c4"/><line x1="531.3" y1="332.52" x2="765.3" y2="332.52" stroke="#e2e2e2" stroke-width="0.45"/><text class="t" x="533.2" y="329.26">辽A3389F</text><text class="t e" x="587.8" y="329.26">120</text><text class="t e" x="626.5" y="329.26">4</text><text class="t e" x="668.4" y="329.26">0</text><text class="c" x="672.4" y="329.26">铁西区</text><text class="c" x="695.4" y="329.26">京哈高速</text><text class="c" x="729.5" y="329.26">车辆追逐事故</text>
<rect x="531.3" y="332.52" width="234" height="10.41" fill="#fbfbfb"/><rect x="590" y="332.64" width="38.4" height="10.17" fill="#ace1c4"/><rect x="628.4" y="332.64" width="41.7" height="10.17" fill="#ace1c4"/><line x1="531.3" y1="342.93" x2="765.3" y2="342.93" stroke="#e2e2e2" stroke-width="0.45"/><text class="t" x="533.2" y="339.67">辽A057CG</text><text class="t e" x="587.8" y="339.67">120</text><text class="t e" x="626.5" y="339.67">0</text><text class="t e" x="668.4" y="339.67">0</text><text class="c" x="672.4" y="339.67">于洪区</text><text class="c" x="695.4" y="339.67">北环城</text><text class="c" x="729.5" y="339.67">车辆追逐事故</text>
<rect x="590" y="343.05" width="38.4" height="10.17" fill="#e0f3e9"/><rect x="628.4" y="343.05" width="41.7" height="10.17" fill="#ace1c4"/><line x1="531.3" y1="353.34" x2="765.3" y2="353.34" stroke="#e2e2e2" stroke-width="0.45"/><text class="t" x="533.2" y="350.08">辽A7A2C5</text><text class="t e" x="587.8" y="350.08">120</text><text class="t e" x="626.5" y="350.08">2</text><text class="t e" x="668.4" y="350.08">0</text><text class="c" x="672.4" y="350.08">浑南区</text><text class="c" x="695.4" y="350.08">四环路</text><text class="c" x="729.5" y="350.08">路口违规事故</text>
<rect x="531.3" y="353.34" width="234" height="10.41" fill="#fbfbfb"/><rect x="590" y="353.46" width="38.4" height="10.17" fill="#f7ccd1"/><rect x="628.4" y="353.46" width="41.7" height="10.17" fill="#fde380"/><line x1="531.3" y1="363.75" x2="765.3" y2="363.75" stroke="#e2e2e2" stroke-width="0.45"/><text class="t" x="533.2" y="360.5">辽A802DD</text><text class="t e" x="587.8" y="360.5">120</text><text class="t e" x="626.5" y="360.5">4</text><text class="t e" x="668.4" y="360.5">1</text><text class="c" x="672.4" y="360.5">和平区</text><text class="c" x="695.4" y="360.5">平南路</text><text class="c" x="729.5" y="360.5">逆行事故</text>
<rect x="590" y="363.87" width="38.4" height="10.17" fill="#e0f3e9"/><rect x="628.4" y="363.87" width="41.7" height="10.17" fill="#efa1aa"/><line x1="531.3" y1="374.16" x2="765.3" y2="374.16" stroke="#e2e2e2" stroke-width="0.45"/><text class="t" x="533.2" y="370.9">辽A62224</text><text class="t e" x="587.8" y="370.9">120</text><text class="t e" x="626.5" y="370.9">2</text><text class="t e" x="668.4" y="370.9">2</text><text class="c" x="672.4" y="370.9">苏家屯区</text><text class="c" x="695.4" y="370.9">桃熊路</text><text class="c" x="729.5" y="370.9">酒驾事故</text>
<rect x="531.3" y="374.16" width="234" height="10.41" fill="#fbfbfb"/><rect x="590" y="374.28" width="38.4" height="10.17" fill="#f7ccd1"/><rect x="628.4" y="374.28" width="41.7" height="10.17" fill="#fde380"/><line x1="531.3" y1="384.57" x2="765.3" y2="384.57" stroke="#e2e2e2" stroke-width="0.45"/><text class="t" x="533.2" y="381.31">辽A8DF19</text><text class="t e" x="587.8" y="381.31">120</text><text class="t e" x="626.5" y="381.31">4</text><text class="t e" x="668.4" y="381.31">1</text><text class="c" x="672.4" y="381.31">大东区</text><text class="c" x="695.4" y="381.31">南北快速干道</text><text class="c" x="729.5" y="381.31">行人撞击事故</text>
<rect x="590" y="384.69" width="38.4" height="10.17" fill="#f7ccd1"/><rect x="628.4" y="384.69" width="41.7" height="10.17" fill="#efa1aa"/><line x1="531.3" y1="394.98" x2="765.3" y2="394.98" stroke="#e2e2e2" stroke-width="0.45"/><text class="t" x="533.2" y="391.72">辽A586D0</text><text class="t e" x="587.8" y="391.72">120</text><text class="t e" x="626.5" y="391.72">4</text><text class="t e" x="668.4" y="391.72">2</text><text class="c" x="672.4" y="391.72">沈河区</text><text class="c" x="695.4" y="391.72">沈水东路</text><text class="c" x="729.5" y="391.72">路面打滑事故</text>
<rect x="531.3" y="394.98" width="234" height="10.41" fill="#fbfbfb"/><rect x="590" y="395.1" width="38.4" height="10.17" fill="#f7ccd1"/><rect x="628.4" y="395.1" width="41.7" height="10.17" fill="#efa1aa"/><line x1="531.3" y1="405.39" x2="765.3" y2="405.39" stroke="#e2e2e2" stroke-width="0.45"/><text class="t" x="533.2" y="402.13">辽A81830</text><text class="t e" x="587.8" y="402.13">120</text><text class="t e" x="626.5" y="402.13">4</text><text class="t e" x="668.4" y="402.13">2</text><text class="c" x="672.4" y="402.13">大东区</text><text class="c" x="695.4" y="402.13">沈铁路</text><text class="c" x="729.5" y="402.13">路口违规事故</text>
<rect x="590" y="405.51" width="38.4" height="10.17" fill="#ace1c4"/><rect x="628.4" y="405.51" width="41.7" height="10.17" fill="#ace1c4"/><line x1="531.3" y1="415.8" x2="765.3" y2="415.8" stroke="#e2e2e2" stroke-width="0.45"/><text class="t" x="533.2" y="412.54">辽AC904A</text><text class="t e" x="587.8" y="412.54">120</text><text class="t e" x="626.5" y="412.54">0</text><text class="t e" x="668.4" y="412.54">0</text><text class="c" x="672.4" y="412.54">苏家屯区</text><text class="c" x="695.4" y="412.54">会展路</text><text class="c" x="729.5" y="412.54">路口违规事故</text>
<rect x="531.3" y="415.8" width="234" height="10.41" fill="#fbfbfb"/><rect x="590" y="415.92" width="38.4" height="10.17" fill="#e0f3e9"/><rect x="628.4" y="415.92" width="41.7" height="10.17" fill="#ace1c4"/><line x1="531.3" y1="426.21" x2="765.3" y2="426.21" stroke="#e2e2e2" stroke-width="0.45"/><text class="t" x="533.2" y="422.95">辽A71820</text><text class="t e" x="587.8" y="422.95">120</text><text class="t e" x="626.5" y="422.95">2</text><text class="t e" x="668.4" y="422.95">0</text><text class="c" x="672.4" y="422.95">沈河区</text><text class="c" x="695.4" y="422.95">南关路</text><text class="c" x="729.5" y="422.95">倒车事故</text>
<rect x="590" y="426.33" width="38.4" height="10.17" fill="#c9ebd8"/><rect x="628.4" y="426.33" width="41.7" height="10.17" fill="#fde380"/><line x1="531.3" y1="436.62" x2="765.3" y2="436.62" stroke="#e2e2e2" stroke-width="0.45"/><text class="t" x="533.2" y="433.37">辽A5F668</text><text class="t e" x="587.8" y="433.37">120</text><text class="t e" x="626.5" y="433.37">1</text><text class="t e" x="668.4" y="433.37">1</text><text class="c" x="672.4" y="433.37">沈河区</text><text class="c" x="695.4" y="433.37">热闹路</text><text class="c" x="729.5" y="433.37">行人撞击事故</text>
<rect x="531.3" y="436.62" width="234" height="10.41" fill="#fbfbfb"/><rect x="590" y="436.74" width="38.4" height="10.17" fill="#ace1c4"/><rect x="628.4" y="436.74" width="41.7" height="10.17" fill="#efa1aa"/><line x1="531.3" y1="447.03" x2="765.3" y2="447.03" stroke="#e2e2e2" stroke-width="0.45"/><text class="t" x="533.2" y="443.77">辽AD3F48</text><text class="t e" x="587.8" y="443.77">120</text><text class="t e" x="626.5" y="443.77">0</text><text class="t e" x="668.4" y="443.77">2</text><text class="c" x="672.4" y="443.77">和平区</text><text class="c" x="695.4" y="443.77">南京南街</text><text class="c" x="729.5" y="443.77">车辆失控事故</text>
<rect x="590" y="447.15" width="38.4" height="10.17" fill="#ace1c4"/><rect x="628.4" y="447.15" width="41.7" height="10.17" fill="#fde380"/><line x1="531.3" y1="457.44" x2="765.3" y2="457.44" stroke="#e2e2e2" stroke-width="0.45"/><text class="t" x="533.2" y="454.18">辽AAFF42</text><text class="t e" x="587.8" y="454.18">120</text><text class="t e" x="626.5" y="454.18">0</text><text class="t e" x="668.4" y="454.18">1</text><text class="c" x="672.4" y="454.18">大东区</text><text class="c" x="695.4" y="454.18">沈铁路</text><text class="c" x="729.5" y="454.18">超速行驶事故</text>
<rect x="531.3" y="457.44" width="234" height="10.41" fill="#fbfbfb"/><rect x="590" y="457.56" width="38.4" height="10.17" fill="#fde380"/><rect x="628.4" y="457.56" width="41.7" height="10.17" fill="#fde380"/><line x1="531.3" y1="467.85" x2="765.3" y2="467.85" stroke="#e2e2e2" stroke-width="0.45"/><text class="t" x="533.2" y="464.59">辽A5D476</text><text class="t e" x="587.8" y="464.59">120</text><text class="t e" x="626.5" y="464.59">3</text><text class="t e" x="668.4" y="464.59">1</text><text class="c" x="672.4" y="464.59">沈北新区</text><text class="c" x="695.4" y="464.59">常州路</text><text class="c" x="729.5" y="464.59">路面打滑事故</text>
<rect x="590" y="467.97" width="38.4" height="10.17" fill="#fde380"/><rect x="628.4" y="467.97" width="41.7" height="10.17" fill="#efa1aa"/><line x1="531.3" y1="478.26" x2="765.3" y2="478.26" stroke="#e2e2e2" stroke-width="0.45"/><text class="t" x="533.2" y="475">辽AE7G19</text><text class="t e" x="587.8" y="475">120</text><text class="t e" x="626.5" y="475">3</text><text class="t e" x="668.4" y="475">2</text><text class="c" x="672.4" y="475">皇姑区</text><text class="c" x="695.4" y="475">崇山路</text><text class="c" x="729.5" y="475">倒车事故</text>
<rect x="531.3" y="478.26" width="234" height="10.41" fill="#fbfbfb"/><rect x="590" y="478.38" width="38.4" height="10.17" fill="#fde380"/><rect x="628.4" y="478.38" width="41.7" height="10.17" fill="#ace1c4"/><line x1="531.3" y1="488.67" x2="765.3" y2="488.67" stroke="#e2e2e2" stroke-width="0.45"/><text class="t" x="533.2" y="485.41">辽AFF448</text><text class="t e" x="587.8" y="485.41">120</text><text class="t e" x="626.5" y="485.41">3</text><text class="t e" x="668.4" y="485.41">0</text><text class="c" x="672.4" y="485.41">苏家屯区</text><text class="c" x="695.4" y="485.41">沈海高速</text><text class="c" x="729.5" y="485.41">车辆失控事故</text>
<rect x="590" y="488.79" width="38.4" height="10.17" fill="#c9ebd8"/><rect x="628.4" y="488.79" width="41.7" height="10.17" fill="#ace1c4"/><line x1="531.3" y1="499.08" x2="765.3" y2="499.08" stroke="#e2e2e2" stroke-width="0.45"/><text class="t" x="533.2" y="495.82">辽A81739</text><text class="t e" x="587.8" y="495.82">120</text><text class="t e" x="626.5" y="495.82">1</text><text class="t e" x="668.4" y="495.82">0</text><text class="c" x="672.4" y="495.82">苏家屯区</text><text class="c" x="695.4" y="495.82">沈海高速</text><text class="c" x="729.5" y="495.82">行人撞击事故</text>
<rect x="531.3" y="499.08" width="234" height="10.41" fill="#fbfbfb"/><rect x="590" y="499.2" width="38.4" height="10.17" fill="#f7ccd1"/><rect x="628.4" y="499.2" width="41.7" height="10.17" fill="#efa1aa"/><line x1="531.3" y1="509.49" x2="765.3" y2="509.49" stroke="#e2e2e2" stroke-width="0.45"/><text class="t" x="533.2" y="506.24">辽A1A2C8</text><text class="t e" x="587.8" y="506.24">120</text><text class="t e" x="626.5" y="506.24">4</text><text class="t e" x="668.4" y="506.24">2</text><text class="c" x="672.4" y="506.24">浑南区</text><text class="c" x="695.4" y="506.24">桂花路</text><text class="c" x="729.5" y="506.24">酒驾事故</text>
<rect x="590" y="509.61" width="38.4" height="10.17" fill="#c9ebd8"/><rect x="628.4" y="509.61" width="41.7" height="10.17" fill="#fde380"/><line x1="531.3" y1="519.9" x2="765.3" y2="519.9" stroke="#e2e2e2" stroke-width="0.45"/><text class="t" x="533.2" y="516.65">辽A06738</text><text class="t e" x="587.8" y="516.65">120</text><text class="t e" x="626.5" y="516.65">1</text><text class="t e" x="668.4" y="516.65">1</text><text class="c" x="672.4" y="516.65">沈北新区</text><text class="c" x="695.4" y="516.65">蒲河路</text><text class="c" x="729.5" y="516.65">车辆追逐事故</text>
<rect x="531.3" y="519.9" width="234" height="10.41" fill="#fbfbfb"/><rect x="590" y="520.02" width="38.4" height="10.17" fill="#fde380"/><rect x="628.4" y="520.02" width="41.7" height="10.17" fill="#fde380"/><line x1="531.3" y1="530.31" x2="765.3" y2="530.31" stroke="#e2e2e2" stroke-width="0.45"/><text class="t" x="533.2" y="527.06">辽AA633G</text><text class="t e" x="587.8" y="527.06">120</text><text class="t e" x="626.5" y="527.06">3</text><text class="t e" x="668.4" y="527.06">1</text><text class="c" x="672.4" y="527.06">大东区</text><text class="c" x="695.4" y="527.06">南北快速干道</text><text class="c" x="729.5" y="527.06">酒驾事故</text>
<rect x="590" y="530.43" width="38.4" height="10.17" fill="#efa1aa"/><rect x="628.4" y="530.43" width="41.7" height="10.17" fill="#fde380"/><line x1="531.3" y1="540.72" x2="765.3" y2="540.72" stroke="#e2e2e2" stroke-width="0.45"/><text class="t" x="533.2" y="537.47">辽A30715</text><text class="t e" x="587.8" y="537.47">120</text><text class="t e" x="626.5" y="537.47">5</text><text class="t e" x="668.4" y="537.47">1</text><text class="c" x="672.4" y="537.47">大东区</text><text class="c" x="695.4" y="537.47">沈铁路</text><text class="c" x="729.5" y="537.47">酒驾事故</text>
<rect x="531.3" y="540.72" width="234" height="10.41" fill="#fbfbfb"/><rect x="590" y="540.84" width="38.4" height="10.17" fill="#f7ccd1"/><rect x="628.4" y="540.84" width="41.7" height="10.17" fill="#ace1c4"/><line x1="531.3" y1="551.13" x2="765.3" y2="551.13" stroke="#e2e2e2" stroke-width="0.45"/><text class="t" x="533.2" y="547.88">辽A84F6C</text><text class="t e" x="587.8" y="547.88">120</text><text class="t e" x="626.5" y="547.88">4</text><text class="t e" x="668.4" y="547.88">0</text><text class="c" x="672.4" y="547.88">沈北新区</text><text class="c" x="695.4" y="547.88">杭州路</text><text class="c" x="729.5" y="547.88">超速行驶事故</text>
</g><rect x="765.3" y="207.6" width="5.1" height="341" fill="#f4f4f4"/><rect x="765.9" y="214.4" width="4.1" height="108.5" fill="#c1c1c1"/><path d="M766.6 211.9L767.85 210.3L769.1 211.9Z" fill="#666"/><path d="M766.6 544.6L767.85 546.2L769.1 544.6Z" fill="#555"/></g>
</svg>
</body></html>
